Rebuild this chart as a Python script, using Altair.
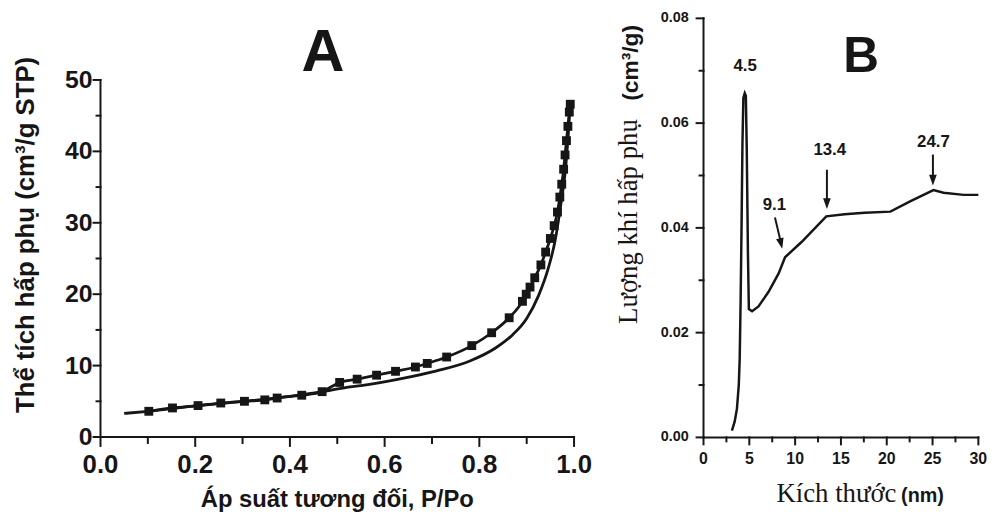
import altair as alt
import pandas as pd

INK = "#161616"
SANS = "Liberation Sans"
SERIF = "Liberation Serif"

# ---------------- Panel A : isotherm ----------------
a_curve_p = [0.05, 0.10, 0.20, 0.30, 0.40, 0.47, 0.52, 0.55, 0.63, 0.71, 0.78, 0.835,
             0.87, 0.90, 0.925, 0.945, 0.96, 0.972, 0.982, 0.988, 0.992]
a_curve_v = [3.3, 3.6, 4.35, 4.98, 5.7, 6.35, 6.95, 7.2, 8.1, 9.26, 10.65, 12.5,
             14.3, 16.6, 19.8, 23.5, 27.5, 32.5, 37.5, 42.5, 46.6]

a_sq_p = [0.102, 0.152, 0.206, 0.254, 0.304, 0.347, 0.373, 0.425, 0.468, 0.505,
          0.542, 0.583, 0.623, 0.665, 0.690, 0.731, 0.784, 0.826, 0.863, 0.891,
          0.899, 0.907, 0.917, 0.930, 0.940, 0.950, 0.958, 0.965, 0.970, 0.974,
          0.978, 0.981, 0.984, 0.987, 0.990, 0.992]
a_sq_v = [3.6, 4.07, 4.4, 4.76, 5.0, 5.2, 5.46, 5.85, 6.35, 7.64,
          8.1, 8.66, 9.2, 9.8, 10.3, 11.2, 12.8, 14.6, 16.7, 19.0,
          20.0, 21.0, 22.3, 24.1, 25.9, 27.8, 29.6, 31.5, 33.6, 35.4,
          37.5, 39.5, 41.5, 43.5, 45.5, 46.6]

a_xticks = [0.0, 0.2, 0.4, 0.6, 0.8, 1.0]
a_xtick_labels = ["0.0", "0.2", "0.4", "0.6", "0.8", "1.0"]
a_xminor = [0.1, 0.3, 0.5, 0.7, 0.9]
a_yticks = [0, 10, 20, 30, 40, 50]
a_ytick_labels = ["0", "10", "20", "30", "40", "50"]
a_yminor = [5, 15, 25, 35, 45]
a_x_range = [0.0, 1.0]
a_y_range = [0.0, 50.0]
a_xtitle = "Áp suất tương đối, P/Po"
a_xtitle_pos = [0.5, 0.0]
a_ytitle = "Thể tích hấp phụ (cm³/g STP)"
a_ytitle_pos = [0.0, 28.3]
a_panel_label = ["A"]
a_panel_label_p = [0.47]
a_panel_label_v = [51.3]

# ---------------- Panel B : pore size distribution ----------------
b_size = [3.1, 3.4, 3.65, 3.85, 3.95, 4.05, 4.15, 4.25, 4.35, 4.5, 4.62, 4.72,
          4.85, 4.95, 5.3, 6.0, 7.1, 8.2, 8.9, 10.7, 13.4, 15.4, 17.6, 20.4,
          22.6, 25.1, 26.2, 28.4, 30.0]
b_amount = [0.0013, 0.0030, 0.0055, 0.0100, 0.0150, 0.0260, 0.0400, 0.0560, 0.0648,
            0.0657, 0.0652, 0.0550, 0.0350, 0.0245, 0.0241, 0.0250, 0.0278, 0.0313,
            0.0344, 0.0373, 0.0422, 0.0426, 0.0429, 0.0431, 0.0451, 0.0472, 0.0467,
            0.0463, 0.0463]

b_xticks = [0.0, 5.0, 10.0, 15.0, 20.0, 25.0, 30.0]
b_xtick_labels = ["0", "5", "10", "15", "20", "25", "30"]
b_xminor = [2.5, 7.5, 12.5, 17.5, 22.5, 27.5]
b_yticks = [0.00, 0.02, 0.04, 0.06, 0.08]
b_ytick_labels = ["0.00", "0.02", "0.04", "0.06", "0.08"]
b_yminor = [0.01, 0.03, 0.05, 0.07]
b_x_range = [0.0, 30.0]
b_y_range = [0.0, 0.08]
b_xtitle = "Kích thước"
b_xtitle_pos = [14.51, 0.0]
b_xunit = "(nm)"
b_xunit_pos = [21.56, 0.0]
b_ytitle = "Lượng khí hấp phụ"
b_ytitle_pos = [0.0, 0.0412]
b_yunit = "(cm³/g)"
b_yunit_pos = [0.0, 0.0715]

b_peak_text = ["4.5", "9.1", "13.4", "24.7"]
b_peak_x = [4.55, 7.74, 13.78, 25.1]
b_peak_y = [0.0709, 0.0444, 0.0548, 0.0564]

b_arrow_x = [7.80, 13.47, 25.04]
b_arrow_y = [0.0420, 0.0511, 0.0540]
b_arrow_x2 = [8.50, 13.47, 25.04]
b_arrow_y2 = [0.0368, 0.0446, 0.0491]
b_head_x = [8.46, 13.47, 25.04]
b_head_y = [0.0370, 0.04462, 0.0491]
b_head_angle = [347, 0, 0]

b_panel_label = ["B"]
b_panel_label_x = [17.2]
b_panel_label_y = [0.0697]

# ---------------- geometry ----------------
A_XDOM = [-0.03, 1.01]
A_YDOM = [-2.0, 58.92]
B_XDOM = [-1.5, 30.3]
B_YDOM = [-0.00265, 0.0804]
A_W, A_H = 497, 439
B_W, B_H = 294, 439

xa = alt.Scale(domain=A_XDOM, nice=False, zero=False)
ya = alt.Scale(domain=A_YDOM, nice=False, zero=False)
xb = alt.Scale(domain=B_XDOM, nice=False, zero=False)
yb = alt.Scale(domain=B_YDOM, nice=False, zero=False)


def enc(xs, ys):
    return (lambda f: alt.X(f, type="quantitative", scale=xs, axis=None),
            lambda f: alt.Y(f, type="quantitative", scale=ys, axis=None))


AX, AY = enc(xa, ya)
BX, BY = enc(xb, yb)


def text_layer(X, Y, xs, ys, texts, **style):
    df = pd.DataFrame({"px": xs, "py": ys, "label": texts})
    return alt.Chart(df).mark_text(color=INK, **style).encode(
        x=X("px"), y=Y("py"), text="label:N")


def frame_layer(X, Y, xdom, ydom, width, height, x_rng, y_rng,
                xmaj, xmin, ymaj, ymin, xt, yt, xmt, ymt):
    """Axis lines and ticks drawn as line segments in data space."""
    ux = (xdom[1] - xdom[0]) / width    # data units per pixel (x)
    uy = (ydom[1] - ydom[0]) / height   # data units per pixel (y)
    rows = []
    seg = 0

    def add(p0, v0, p1, v1):
        nonlocal seg
        rows.append({"seg": seg, "o": 0, "fx": p0, "fy": v0})
        rows.append({"seg": seg, "o": 1, "fx": p1, "fy": v1})
        seg += 1

    add(x_rng[0], y_rng[0], x_rng[1], y_rng[0])
    add(x_rng[0], y_rng[0], x_rng[0], y_rng[1])
    for vals, length in ((xmaj, xt), (xmin, xmt)):
        for t in vals:
            add(t, y_rng[0], t, y_rng[0] - length * uy)
    for vals, length in ((ymaj, yt), (ymin, ymt)):
        for t in vals:
            add(x_rng[0], t, x_rng[0] - length * ux, t)
    df = pd.DataFrame(rows)
    return alt.Chart(df).mark_line(color=INK, strokeWidth=2, strokeCap="square").encode(
        x=X("fx"), y=Y("fy"), detail="seg:N", order="o:Q")


# ---- Panel A layers ----
dfA_curve = pd.DataFrame({"p": a_curve_p, "v": a_curve_v})
dfA_sq = pd.DataFrame({"p": a_sq_p, "v": a_sq_v})

a_curve = alt.Chart(dfA_curve).mark_line(
    color=INK, strokeWidth=2.8, interpolate="monotone").encode(x=AX("p"), y=AY("v"))
a_sq_line = alt.Chart(dfA_sq).mark_line(
    color=INK, strokeWidth=2.8, interpolate="monotone").encode(x=AX("p"), y=AY("v"))
a_sq_pts = alt.Chart(dfA_sq).mark_point(
    shape="square", filled=True, size=80, color=INK, opacity=1).encode(x=AX("p"), y=AY("v"))

a_texts = [
    text_layer(AX, AY, a_panel_label_p, a_panel_label_v, a_panel_label,
               font=SANS, fontSize=60, fontWeight="bold", align="center",
               baseline="alphabetic"),
    text_layer(AX, AY, a_xticks, [a_y_range[0]] * len(a_xticks), a_xtick_labels,
               font=SANS, fontSize=26, fontWeight="bold", align="center",
               baseline="alphabetic", dy=36),
    text_layer(AX, AY, [a_x_range[0]] * len(a_yticks), a_yticks, a_ytick_labels,
               font=SANS, fontSize=25, fontWeight="bold", align="right",
               baseline="middle", dx=-8),
    text_layer(AX, AY, [a_xtitle_pos[0]], [a_xtitle_pos[1]], [a_xtitle],
               font=SANS, fontSize=24, fontWeight="bold", align="center",
               baseline="alphabetic", dy=71),
    text_layer(AX, AY, [a_ytitle_pos[0]], [a_ytitle_pos[1]], [a_ytitle],
               font=SANS, fontSize=26, fontWeight="bold", align="center",
               baseline="middle", angle=270, dy=-75),
]

panel_a = alt.layer(
    frame_layer(AX, AY, A_XDOM, A_YDOM, A_W, A_H, a_x_range, a_y_range,
                a_xticks, a_xminor, a_yticks, a_yminor, 9, 7, 6, 4),
    a_curve, a_sq_line, a_sq_pts,
    *a_texts,
).properties(width=A_W, height=A_H)

# ---- Panel B layers ----
dfB = pd.DataFrame({"p": b_size, "v": b_amount})
dfB_arrows = pd.DataFrame({"p": b_arrow_x, "v": b_arrow_y, "p2": b_arrow_x2, "v2": b_arrow_y2})
dfB_heads = pd.DataFrame({"p": b_head_x, "v": b_head_y, "a": b_head_angle})

b_curve = alt.Chart(dfB).mark_line(color=INK, strokeWidth=2.5).encode(x=BX("p"), y=BY("v"))
b_arrow_rules = alt.Chart(dfB_arrows).mark_rule(color=INK, strokeWidth=2).encode(
    x=BX("p"), y=BY("v"), x2="p2:Q", y2="v2:Q")
b_heads = alt.Chart(dfB_heads).mark_point(
    shape="M-1,-1.4L0,1.4L1,-1.4Z", filled=True, size=60, color=INK, opacity=1).encode(
    x=BX("p"), y=BY("v"), angle=alt.Angle("a:Q", scale=None))

b_texts = [
    text_layer(BX, BY, b_peak_x, b_peak_y, b_peak_text,
               font=SANS, fontSize=17, fontWeight="bold", align="center",
               baseline="middle"),
    text_layer(BX, BY, b_panel_label_x, b_panel_label_y, b_panel_label,
               font=SANS, fontSize=50, fontWeight="bold", align="center",
               baseline="alphabetic"),
    text_layer(BX, BY, b_xticks, [b_y_range[0]] * len(b_xticks), b_xtick_labels,
               font=SANS, fontSize=16, fontWeight="bold", align="center",
               baseline="alphabetic", dy=27),
    text_layer(BX, BY, [b_x_range[0]] * len(b_yticks), b_yticks, b_ytick_labels,
               font=SANS, fontSize=14.5, fontWeight="bold", align="right",
               baseline="middle", dx=-15),
    text_layer(BX, BY, [b_xtitle_pos[0]], [b_xtitle_pos[1]], [b_xtitle],
               font=SERIF, fontSize=27, align="center", baseline="alphabetic", dy=65),
    text_layer(BX, BY, [b_xunit_pos[0]], [b_xunit_pos[1]], [b_xunit],
               font=SANS, fontSize=20, fontWeight="bold", align="left",
               baseline="alphabetic", dy=65),
    text_layer(BX, BY, [b_ytitle_pos[0]], [b_ytitle_pos[1]], [b_ytitle],
               font=SERIF, fontSize=27, align="center", baseline="middle",
               angle=270, dy=-75),
    text_layer(BX, BY, [b_yunit_pos[0]], [b_yunit_pos[1]], [b_yunit],
               font=SANS, fontSize=23, fontWeight="bold", align="center",
               baseline="middle", angle=270, dy=-73),
]

panel_b = alt.layer(
    frame_layer(BX, BY, B_XDOM, B_YDOM, B_W, B_H, b_x_range, b_y_range,
                b_xticks, b_xminor, b_yticks, b_yminor, 7, 7, 4, 4),
    b_curve, b_arrow_rules, b_heads,
    *b_texts,
).properties(width=B_W, height=B_H)

chart = alt.hconcat(panel_a, panel_b, spacing=22).properties(
    padding={"left": 5, "top": 0, "right": 5, "bottom": 5},
    background="white",
).configure_view(stroke=None)

chart.save("out.html", embed_options={"renderer": "svg", "actions": False})
